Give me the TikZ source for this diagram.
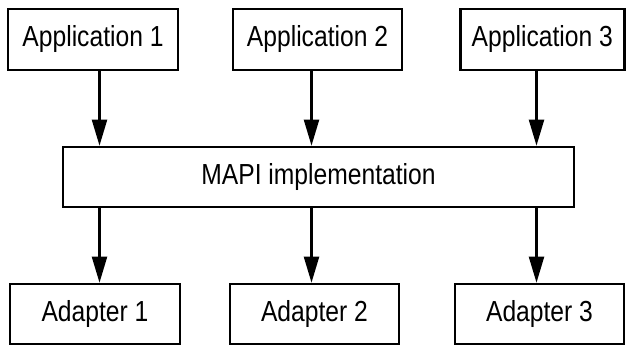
\documentclass[tikz,border=0pt]{standalone}
\usepackage{fontspec}
\setmainfont[FakeStretch=0.85]{Liberation Sans}
\usetikzlibrary{arrows.meta}

\begin{document}
\begin{tikzpicture}[x=1pt,y=-1pt]
	\tikzset{
		box/.style={draw=black, line width=2.6pt, inner sep=0pt, minimum height=61pt,
			font=\fontsize{29}{34}\selectfont},
		flow/.style={line width=2.2pt, -{Triangle[length=26pt,width=15pt]}}
	}
	\useasboundingbox (0,0) rectangle (626,347);
	% applications
	\node [box, minimum width=170pt] (app1) at (93,39.5) {Application 1};
	\node [box, minimum width=169pt] (app2) at (317.5,39.5) {Application 2};
	\node [box, minimum width=164pt] (app3) at (542.3,39.5) {Application 3};
	% MAPI layer
	\node [box, minimum width=511pt, minimum height=60pt] (mapi) at (318.5,177) {MAPI implementation};
	% adapters
	\node [box, minimum width=170pt, minimum height=60pt] (ad1) at (95,314) {Adapter 1};
	\node [box, minimum width=169pt, minimum height=60pt] (ad2) at (314.5,314) {Adapter 2};
	\node [box, minimum width=169pt, minimum height=60pt] (ad3) at (539.5,314) {Adapter 3};
	% arrow columns
	\coordinate (c1) at (99.5,0);
	\coordinate (c2) at (311.5,0);
	\coordinate (c3) at (536.5,0);
	\draw [flow] (c1 |- app1.south) -- (c1 |- mapi.north);
	\draw [flow] (c2 |- app2.south) -- (c2 |- mapi.north);
	\draw [flow] (c3 |- app3.south) -- (c3 |- mapi.north);
	\draw [flow] (c1 |- mapi.south) -- (c1 |- ad1.north);
	\draw [flow] (c2 |- mapi.south) -- (c2 |- ad2.north);
	\draw [flow] (c3 |- mapi.south) -- (c3 |- ad3.north);
\end{tikzpicture}
\end{document}
